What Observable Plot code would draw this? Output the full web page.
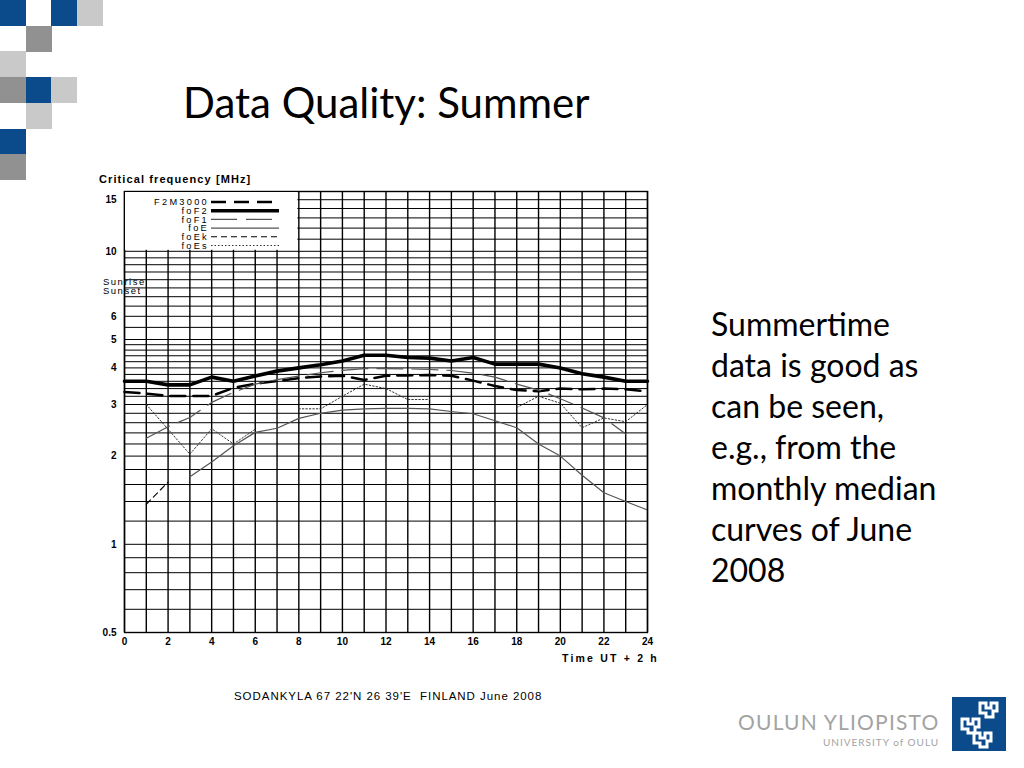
<!DOCTYPE html>
<html><head><meta charset="utf-8">
<script src="https://cdn.jsdelivr.net/npm/d3@7"></script>
<script src="https://cdn.jsdelivr.net/npm/@observablehq/plot@0.6"></script>
<style>
html,body{margin:0;padding:0;background:#fff;}
#slide{position:relative;width:1024px;height:768px;overflow:hidden;background:#fff;font-family:Lato,"Open Sans",sans-serif;}
.sq{position:absolute;width:26px;height:26px;}
.abs{position:absolute;white-space:nowrap;}
#title{left:183px;top:77px;font-size:42px;color:#000;}
#body{left:711px;top:303px;font-size:32px;line-height:41px;color:#000;}
.ch{font-family:"Liberation Sans",Arial,sans-serif;color:#000;}
#chart{position:absolute;left:60px;top:170px;}
</style></head><body>
<div id="slide">
  <div id="squares"></div>
  <div id="title" class="abs">Data Quality: Summer</div>
  <div id="body" class="abs">Summertime<br>data is good as<br>can be seen,<br>e.g., from the<br>monthly median<br>curves of June<br>2008</div>
  <div class="abs ch" style="left:99px;top:173px;font-size:11px;font-weight:bold;letter-spacing:1.1px;">Critical frequency [MHz]</div>
  <div class="abs ch" style="left:103px;top:277px;font-size:9.5px;letter-spacing:1.5px;line-height:9px;">Sunrise<br>Sunset</div>
  <div id="chart"></div>
  <div class="abs ch" style="left:562px;top:652px;font-size:10.5px;font-weight:bold;letter-spacing:2.2px;">Time UT + 2 h</div>
  <div class="abs ch" style="left:234px;top:690px;font-size:11.5px;letter-spacing:0.95px;">SODANKYLA 67 22'N 26 39'E&nbsp; FINLAND June 2008</div>
  <div class="abs" style="left:738px;top:709px;font-size:21px;letter-spacing:1.2px;color:#a3a3a3;">OULUN YLIOPISTO</div>
  <div class="abs" style="left:823px;top:736px;font-size:10px;letter-spacing:1px;color:#a3a3a3;">UNIVERSITY of OULU</div>
  <svg class="abs" style="left:952px;top:697px;" width="54" height="54" viewBox="0 0 54 54">
    <rect width="54" height="54" fill="#0b4a8b"/>
    <g fill="none" stroke="#fff" stroke-width="3">
      <path d="M28 6 h6 v5 h5 v-5 h6 v8 h-4 v6 h-7 v-4 h-6 z"/>
      <path d="M10 22 h6 v5 h5 v-5 h6 v8 h-4 v6 h-7 v-4 h-6 z"/>
      <path d="M22 36 h6 v5 h5 v-5 h6 v8 h-4 v6 h-7 v-4 h-6 z"/>
    </g>
  </svg>
</div>
<script>
// ---- data ----
const hours = [0,1,2,3,4,5,6,7,8,9,10,11,12,13,14,15,16,17,18,19,20,21,22,23,24];
const xTicks = [0,2,4,6,8,10,12,14,16,18,20,22,24];
const yTicks = [0.5,1,2,3,4,5,6,8,10,15];
const hGrid = [0.6,0.7,0.8,0.9,1,1.2,1.4,1.6,1.8,2,2.2,2.4,2.6,2.8,3,3.2,3.4,3.6,3.8,4,4.2,4.4,4.6,4.8,5,5.5,6,6.5,7,7.5,8,8.5,9,9.5,10,11,12,13,14,15];
const seriesNames = ["F2M3000","foF2","foF1","foE","foEk","foEs"];
const F2M3000 = [3.31,3.27,3.21,3.21,3.21,3.42,3.53,3.61,3.69,3.74,3.76,3.64,3.76,3.77,3.78,3.76,3.62,3.47,3.36,3.33,3.40,3.38,3.40,3.38,3.32];
const foF2   = [3.60,3.60,3.50,3.50,3.72,3.60,3.75,3.90,4.00,4.10,4.22,4.42,4.42,4.34,4.32,4.22,4.34,4.12,4.12,4.12,4.00,3.82,3.72,3.60,3.60];
const foF1   = [null,2.30,2.52,2.71,3.05,3.30,3.52,3.65,3.75,3.85,3.92,3.98,3.98,3.97,3.95,3.92,3.84,3.72,3.52,3.36,3.14,2.92,2.70,2.38,null];
const foE    = [null,null,null,1.70,1.91,2.17,2.41,2.49,2.69,2.80,2.87,2.90,2.91,2.91,2.90,2.84,2.79,2.64,2.50,2.20,2.00,1.72,1.50,1.40,1.31];
const foEk   = [null,1.37,1.63,null,null,null,null,null,null,null,null,null,null,null,null,null,null,null,null,null,null,null,null,null,null];
const foEs   = [null,3.00,2.47,2.03,2.48,2.20,2.47,null,2.90,2.90,3.20,3.52,3.40,3.12,3.12,null,null,null,2.93,3.20,3.03,2.50,2.70,2.62,3.00];
const seriesValues = {F2M3000, foF2, foF1, foE, foEk, foEs};
const legendUntilHour = 8;

// ---- styles ----
const styles = {
  F2M3000:{stroke:"#000", strokeWidth:2.5, dash:"15,8"},
  foF2:{stroke:"#000", strokeWidth:3.6, dash:null},
  foF1:{stroke:"#555", strokeWidth:1.2, dash:"26,9"},
  foE:{stroke:"#555", strokeWidth:1.2, dash:null},
  foEk:{stroke:"#000", strokeWidth:1.1, dash:"6,4"},
  foEs:{stroke:"#333", strokeWidth:1, dash:"1.5,2"}
};

// squares decoration
const sqColors = {b:"#0b4a8b", m:"#919191", l:"#c9c9c9"};
const sqLayout = [[0,0,"b"],[2,0,"b"],[3,0,"l"],[1,1,"m"],[0,2,"l"],[0,3,"m"],[1,3,"b"],[2,3,"l"],[1,4,"l"],[0,5,"b"],[0,6,"m"]];
const sqBox = document.getElementById("squares");
for (const [c,r,k] of sqLayout) {
  const d = document.createElement("div");
  d.className = "sq";
  d.style.left = (c*25.7)+"px"; d.style.top = (r*25.7)+"px"; d.style.background = sqColors[k];
  sqBox.appendChild(d);
}

const lineMarks = seriesNames.map(n => Plot.lineY(hours.map((h,i)=>({h, v: seriesValues[n][i]})), {
  x:"h", y:"v", stroke: styles[n].stroke, strokeWidth: styles[n].strokeWidth,
  strokeDasharray: styles[n].dash || undefined, curve:"linear"
}));

const chart = Plot.plot({
  width: 620, height: 500,
  marginLeft: 64, marginRight: 33, marginTop: 21, marginBottom: 38,
  style:{fontFamily:"'Liberation Sans', Arial, sans-serif", fontSize:"10px", background:"transparent", overflow:"visible", color:"#000"},
  x:{domain:[0,24]},
  y:{type:"log", domain:[0.5,16]},
  marks:[
    Plot.ruleY(hGrid, {stroke:"#000", strokeWidth:1}),
    Plot.ruleX(hours, {stroke:"#000", strokeWidth:1.4}),
    ...lineMarks,
    Plot.frame({stroke:"#000", strokeWidth:1.4}),
    Plot.axisX({ticks:xTicks, tickSize:0, tickPadding:5, label:null, fontWeight:"bold", fill:"#000"}),
    Plot.axisY({ticks:yTicks, tickSize:0, tickPadding:8, label:null, fontWeight:"bold", fill:"#000", tickFormat:d=>String(d)})
  ]
});
document.getElementById("chart").appendChild(chart);

// legend box inside the plot, top-left
const xs = chart.scale("x"), ys = chart.scale("y");
const svg = d3.select(chart);
const lg = svg.append("g");
const bx0 = xs.apply(0)+1, bx1 = xs.apply(legendUntilHour)-1, by0 = ys.apply(16)+1, by1 = ys.apply(10)-1;
lg.append("rect").attr("x",bx0).attr("y",by0).attr("width",bx1-bx0).attr("height",by1-by0).attr("fill","#fff");
const rowH = 8.7;
seriesNames.forEach((n,i)=>{
  const y = by0 + 10 + rowH*i;
  lg.append("text").attr("x", bx0+84).attr("y", y).attr("dy","0.35em").attr("text-anchor","end")
    .attr("font-size","9.2px").attr("letter-spacing","2.3px").attr("fill","#000").text(n);
  lg.append("line").attr("x1", bx0+86).attr("x2", bx0+154).attr("y1", y).attr("y2", y)
    .attr("stroke", styles[n].stroke).attr("stroke-width", styles[n].strokeWidth)
    .attr("stroke-dasharray", styles[n].dash || null);
});
</script>
</body></html>
